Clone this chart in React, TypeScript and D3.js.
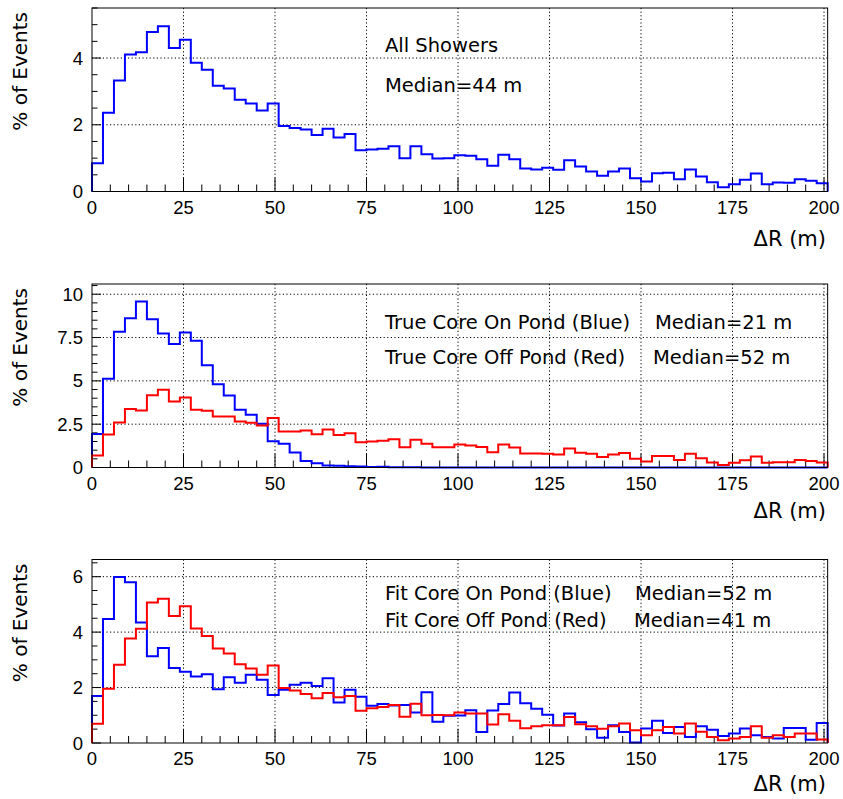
import React from "react";
import * as d3 from "d3";

// ---- data (percent of events per 3 m bin, 0..201 m) ----
const binEdgesStart = 0;
const binWidth = 3;

const allShowers = [
  0.85, 2.36, 3.33, 4.11, 4.17, 4.78, 4.95, 4.3, 4.55, 3.86,
  3.65, 3.17, 3.09, 2.75, 2.64, 2.43, 2.64, 1.96, 1.9, 1.86,
  1.69, 1.88, 1.62, 1.72, 1.24, 1.26, 1.28, 1.36, 1.0, 1.36,
  1.12, 0.99, 1.0, 1.09, 1.07, 0.97, 0.77, 1.1, 0.97, 0.69,
  0.66, 0.71, 0.65, 0.94, 0.75, 0.6, 0.47, 0.6, 0.69, 0.4,
  0.3, 0.55, 0.56, 0.37, 0.66, 0.45, 0.28, 0.13, 0.22, 0.35,
  0.54, 0.22, 0.27, 0.26, 0.37, 0.32, 0.25,
];

const trueOnPond = [
  1.94, 5.12, 7.83, 8.62, 9.58, 8.56, 7.73, 7.13, 7.79, 7.31,
  5.9, 4.81, 4.15, 3.33, 3.04, 2.52, 1.52, 1.37, 0.87, 0.38,
  0.25, 0.12, 0.1, 0.07, 0.06, 0.03, 0.04, 0.02, 0.01, 0.01,
  0, 0, 0, 0, 0, 0, 0, 0, 0, 0,
  0, 0, 0, 0, 0, 0, 0, 0, 0, 0,
  0, 0, 0, 0, 0, 0, 0, 0, 0, 0,
  0, 0, 0, 0, 0, 0, 0,
];

const trueOffPond = [
  0.69, 1.9, 2.6, 3.38, 3.29, 4.17, 4.48, 3.81, 4.04, 3.33,
  3.27, 2.94, 2.94, 2.65, 2.58, 2.42, 2.85, 2.08, 2.08, 2.13,
  1.92, 2.19, 1.88, 1.98, 1.46, 1.5, 1.54, 1.63, 1.17, 1.6,
  1.37, 1.17, 1.17, 1.33, 1.27, 1.19, 0.88, 1.33, 1.15, 0.81,
  0.81, 0.79, 0.75, 1.1, 0.85, 0.8, 0.6, 0.75, 0.83, 0.5,
  0.35, 0.67, 0.67, 0.44, 0.79, 0.54, 0.29, 0.15, 0.27, 0.42,
  0.63, 0.27, 0.31, 0.31, 0.44, 0.38, 0.29,
];

const fitOnPond = [
  1.7, 4.47, 5.99, 5.8, 4.35, 3.13, 3.43, 2.71, 2.57, 2.4,
  2.48, 1.94, 2.37, 2.17, 2.46, 2.28, 1.73, 1.92, 2.1, 2.17,
  2.06, 2.34, 1.46, 1.92, 1.67, 1.34, 1.41, 1.35, 1.37, 1.1,
  1.83, 0.77, 0.98, 0.99, 1.18, 0.4, 1.17, 1.41, 1.82, 1.43,
  1.24, 1.02, 0.63, 1.06, 0.75, 0.5, 0.19, 0.64, 0.4, 0.02,
  0.52, 0.8, 0.36, 0.58, 0.22, 0.6, 0.48, 0.25, 0.34, 0.52,
  0.28, 0.22, 0.16, 0.54, 0.54, 0.12, 0.72,
];

const fitOffPond = [
  0.69, 1.96, 2.82, 3.77, 4.12, 5.07, 5.2, 4.58, 4.93, 4.13,
  3.86, 3.41, 3.23, 2.84, 2.69, 2.46, 2.8, 1.98, 1.89, 1.77,
  1.61, 1.8, 1.65, 1.7, 1.16, 1.25, 1.3, 1.37, 0.95, 1.42,
  1.0, 1.01, 1.0, 1.1, 1.06, 1.06, 0.67, 1.04, 0.8, 0.53,
  0.6, 0.64, 0.64, 0.94, 0.68, 0.6, 0.51, 0.6, 0.7, 0.46,
  0.28, 0.46, 0.58, 0.34, 0.7, 0.41, 0.22, 0.1, 0.16, 0.22,
  0.6, 0.19, 0.28, 0.22, 0.34, 0.34, 0.13,
];

const xTickValues = [0, 25, 50, 75, 100, 125, 150, 175, 200];
const yTicks1 = [0, 2, 4];
const yTicks2 = [0, 2.5, 5, 7.5, 10];
const yTicks3 = [0, 2, 4, 6];

const xTitle = "ΔR (m)";
const yTitle = "% of Events";

const text1 = ["All Showers", "Median=44 m"];
const text2 = ["True Core On Pond (Blue)", "True Core Off Pond (Red)"];
const med2 = ["Median=21 m", "Median=52 m"];
const text3 = ["Fit Core On Pond (Blue)", "Fit Core Off Pond (Red)"];
const med3 = ["Median=52 m", "Median=41 m"];

// ---- layout ----
const W = 843;
const H = 799;
const LEFT = 92;
const X200 = 824;
const PANEL_H = 183.5;
const ANNOT_FONT = "'DejaVu Sans', sans-serif";
const TICK_FONT = "'Liberation Sans', Arial, sans-serif";

const xScale = d3.scaleLinear().domain([0, 200]).range([LEFT, X200]);
const xMax = binEdgesStart + binWidth * allShowers.length; // 201

type Series = { values: number[]; color: string };
type PanelCfg = {
  top: number;
  ymax: number;
  yTicks: number[];
  xTitleY: number;
  series: Series[];
  texts: { x: number; dy: number; s: string }[];
};

function stepPath(values: number[], y: d3.ScaleLinear<number, number>) {
  const pts: [number, number][] = [[binEdgesStart, 0]];
  values.forEach((v, i) => pts.push([binEdgesStart + i * binWidth, v]));
  pts.push([xMax, values[values.length - 1]]);
  pts.push([xMax, 0]);
  const line = d3
    .line<[number, number]>()
    .x((d) => xScale(d[0]))
    .y((d) => y(d[1]))
    .curve(d3.curveStepAfter);
  return line(pts) || "";
}

function Panel({ cfg }: { cfg: PanelCfg }) {
  const bottom = cfg.top + PANEL_H;
  const y = d3.scaleLinear().domain([0, cfg.ymax]).range([bottom, cfg.top]);
  const right = xScale(xMax);
  const xMinor = d3.range(0, 201, 5);
  const yMinor = d3.range(0, cfg.ymax + 1e-9, 0.5);
  return (
    <g>
      {/* grid */}
      {xTickValues
        .filter((t) => t > 0)
        .map((t) => (
          <line
            key={"gx" + t}
            x1={xScale(t)}
            x2={xScale(t)}
            y1={cfg.top}
            y2={bottom}
            stroke="#000"
            strokeWidth={1}
            strokeDasharray="1.2,2.4"
          />
        ))}
      {cfg.yTicks
        .filter((t) => t > 0)
        .map((t) => (
          <line
            key={"gy" + t}
            x1={LEFT}
            x2={right}
            y1={y(t)}
            y2={y(t)}
            stroke="#000"
            strokeWidth={1}
            strokeDasharray="1.2,2.4"
          />
        ))}
      {/* minor/major ticks */}
      {xMinor.map((t) => {
        const major = t % 25 === 0;
        return (
          <line
            key={"tx" + t}
            x1={xScale(t)}
            x2={xScale(t)}
            y1={bottom}
            y2={bottom - (major ? 14 : 7)}
            stroke="#000"
            strokeWidth={1}
          />
        );
      })}
      {yMinor.map((t) => {
        const major = cfg.yTicks.some((m) => Math.abs(m - t) < 1e-6);
        return (
          <line
            key={"ty" + t}
            x1={LEFT}
            x2={LEFT + (major ? 9 : 5.5)}
            y1={y(t)}
            y2={y(t)}
            stroke="#000"
            strokeWidth={1}
          />
        );
      })}
      {/* histograms */}
      {cfg.series.map((s, i) => (
        <path
          key={"s" + i}
          d={stepPath(s.values, y)}
          fill="none"
          stroke={s.color}
          strokeWidth={2}
          strokeLinejoin="miter"
        />
      ))}
      {/* frame */}
      <rect
        x={LEFT}
        y={cfg.top}
        width={right - LEFT}
        height={PANEL_H}
        fill="none"
        stroke="#000"
        strokeWidth={1}
      />
      {/* tick labels */}
      {xTickValues.map((t) => (
        <text
          key={"lx" + t}
          x={xScale(t)}
          y={bottom + 22}
          textAnchor="middle"
          fontFamily={TICK_FONT}
          fontSize={18.5}
        >
          {t}
        </text>
      ))}
      {cfg.yTicks.map((t) => (
        <text
          key={"ly" + t}
          x={83}
          y={y(t) + 6.5}
          textAnchor="end"
          fontFamily={TICK_FONT}
          fontSize={18.5}
        >
          {t}
        </text>
      ))}
      {/* axis titles */}
      <text
        x={826}
        y={cfg.xTitleY}
        textAnchor="end"
        fontFamily={ANNOT_FONT}
        fontSize={21}
      >
        {xTitle}
      </text>
      <text
        transform={`translate(27,${cfg.top + 4}) rotate(-90)`}
        textAnchor="end"
        fontFamily={ANNOT_FONT}
        fontSize={20}
      >
        {yTitle}
      </text>
      {/* annotations */}
      {cfg.texts.map((t, i) => (
        <text
          key={"t" + i}
          x={t.x}
          y={cfg.top + t.dy}
          fontFamily={ANNOT_FONT}
          fontSize={19.5}
        >
          {t.s}
        </text>
      ))}
    </g>
  );
}

export default function App() {
  const panels: PanelCfg[] = [
    {
      top: 8,
      ymax: 5.5,
      yTicks: yTicks1,
      xTitleY: 246,
      series: [{ values: allShowers, color: "#0000ff" }],
      texts: [
        { x: 385, dy: 44, s: text1[0] },
        { x: 385, dy: 84, s: text1[1] },
      ],
    },
    {
      top: 284,
      ymax: 10.59,
      yTicks: yTicks2,
      xTitleY: 518,
      series: [
        { values: trueOnPond, color: "#0000ff" },
        { values: trueOffPond, color: "#ff0000" },
      ],
      texts: [
        { x: 385, dy: 45, s: text2[0] },
        { x: 385, dy: 80, s: text2[1] },
        { x: 655, dy: 45, s: med2[0] },
        { x: 653, dy: 80, s: med2[1] },
      ],
    },
    {
      top: 559.5,
      ymax: 6.62,
      yTicks: yTicks3,
      xTitleY: 791,
      series: [
        { values: fitOnPond, color: "#0000ff" },
        { values: fitOffPond, color: "#ff0000" },
      ],
      texts: [
        { x: 385, dy: 40.5, s: text3[0] },
        { x: 385, dy: 67.5, s: text3[1] },
        { x: 635, dy: 40.5, s: med3[0] },
        { x: 634, dy: 67.5, s: med3[1] },
      ],
    },
  ];
  return (
    <svg
      width={W}
      height={H}
      style={{ position: "absolute", left: 0, top: 0, background: "#fff" }}
    >
      <rect x={0} y={0} width={W} height={H} fill="#fff" />
      {panels.map((p, i) => (
        <Panel key={i} cfg={p} />
      ))}
    </svg>
  );
}
